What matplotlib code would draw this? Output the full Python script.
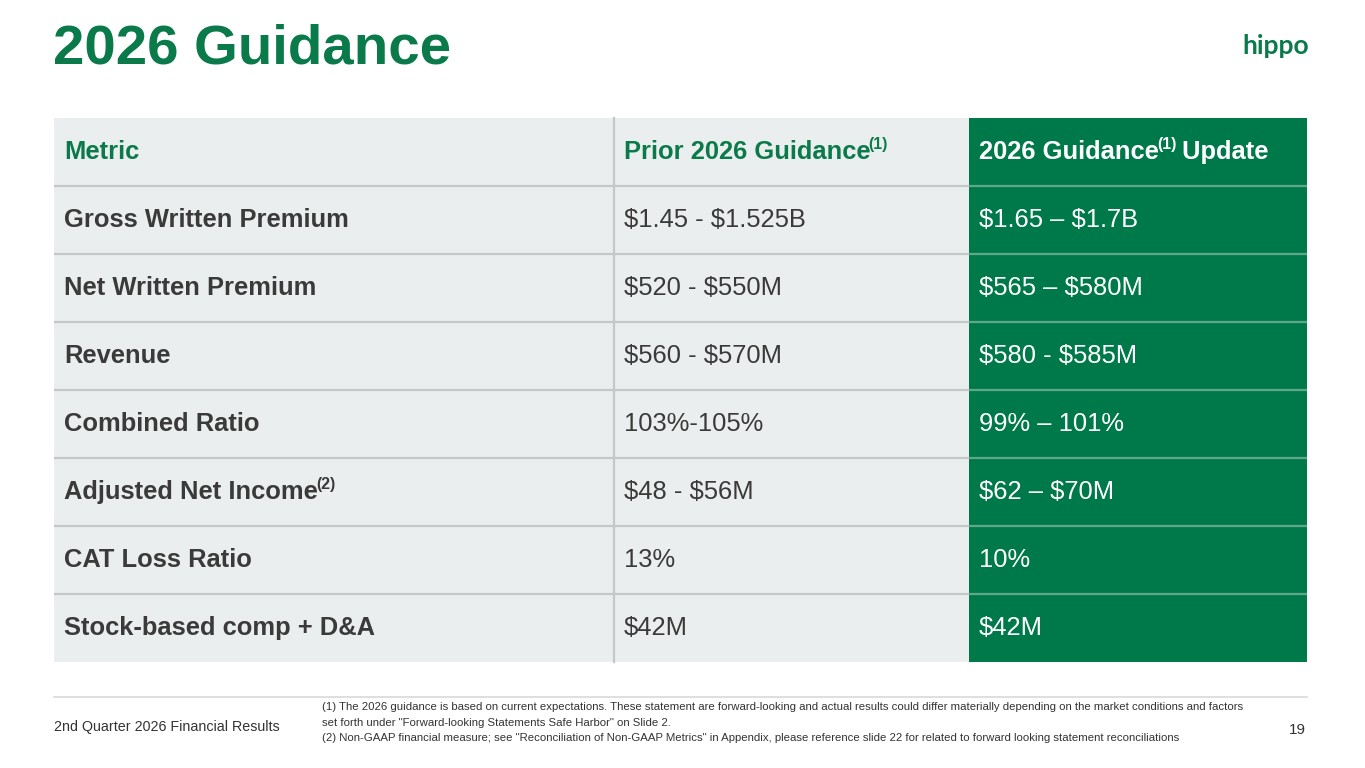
import matplotlib
matplotlib.use("Agg")
import matplotlib.pyplot as plt
from matplotlib.patches import Rectangle

GREEN = "#0a7a4b"
CELL_GREEN = "#00794a"
GREY_BG = "#ebeeee"
TEXT = "#3a3a3a"

headers = ["Metric", "Prior 2026 Guidance", "2026 Guidance"]
header_sup = ["", "(1)", "(1)"]
header_tail = ["", "", " Update"]

metrics = ["Gross Written Premium", "Net Written Premium", "Revenue", "Combined Ratio",
           "Adjusted Net Income", "CAT Loss Ratio", "Stock-based comp + D&A"]
metric_sup = ["", "", "", "", "(2)", "", ""]
prior = ["$1.45 - $1.525B", "$520 - $550M", "$560 - $570M", "103%-105%",
         "$48 - $56M", "13%", "$42M"]
update = ["$1.65 \u2013 $1.7B", "$565 \u2013 $580M", "$580 - $585M", "99% \u2013 101%",
          "$62 \u2013 $70M", "10%", "$42M"]

footnotes = [
    "(1) The 2026 guidance is based on current expectations. These statement are forward-looking and actual results could differ materially depending on the market conditions and factors",
    "set forth under \"Forward-looking Statements Safe Harbor\" on Slide 2.",
    "(2) Non-GAAP financial measure; see \"Reconciliation of Non-GAAP Metrics\" in Appendix, please reference slide 22 for related to forward looking statement reconciliations",
]

plt.rcParams["font.family"] = ["Liberation Sans", "DejaVu Sans"]

fig = plt.figure(figsize=(13.65, 7.68), dpi=100)
ax = fig.add_axes([0, 0, 1, 1])
ax.set_xlim(0, 1365)
ax.set_ylim(768, 0)
ax.axis("off")
renderer = fig.canvas.get_renderer()

# title + logo
ax.text(53, 64, "2026 Guidance", fontsize=40.6, fontweight="bold", color=GREEN, va="baseline")
ax.text(1309, 54, "hippo", fontsize=19, fontweight="bold", color=GREEN, va="baseline", ha="right",
        family=["Lato", "Liberation Sans"])

col_x = [54, 614, 969, 1307]
top = 118
row_h = 68
n_rows = len(metrics) + 1

# cell backgrounds
ax.add_patch(Rectangle((col_x[0], top), col_x[2] - col_x[0], row_h * n_rows, color=GREY_BG, lw=0))
ax.add_patch(Rectangle((col_x[2], top), col_x[3] - col_x[2], row_h * n_rows, color=CELL_GREEN, lw=0))

# grid lines
for i in range(1, n_rows):
    y = top + i * row_h
    ax.plot([col_x[0], col_x[2]], [y, y], color="#c6c8c8", lw=1.6, solid_capstyle="butt")
    ax.plot([col_x[2], col_x[3]], [y, y], color="#5fa786", lw=1.6, solid_capstyle="butt")
ax.plot([col_x[1], col_x[1]], [top, top + row_h * n_rows], color="#c6c8c8", lw=1.6)


def put(x, y, s, sup="", tail="", color=TEXT, weight="normal", size=18.4):
    t = ax.text(x, y, s, fontsize=size, fontweight=weight, color=color, va="center", parse_math=False)
    if not sup:
        return
    bb = t.get_window_extent(renderer)
    x2 = ax.transData.inverted().transform((bb.x1, bb.y0))[0] - 2
    s2 = ax.text(x2, y - 8, sup, fontsize=size * 0.62, fontweight=weight, color=color, va="center")
    if tail:
        bb2 = s2.get_window_extent(renderer)
        x3 = ax.transData.inverted().transform((bb2.x1, bb2.y0))[0] - 1
        ax.text(x3, y, tail, fontsize=size, fontweight=weight, color=color, va="center")


pad = 10
hy = top + row_h / 2
put(col_x[0] + pad, hy, headers[0], color=GREEN, weight="bold")
put(col_x[1] + pad, hy, headers[1], header_sup[1], color=GREEN, weight="bold")
put(col_x[2] + pad, hy, headers[2], header_sup[2], header_tail[2], color="white", weight="bold")

for i in range(len(metrics)):
    y = top + (i + 1) * row_h + row_h / 2
    put(col_x[0] + pad, y, metrics[i], metric_sup[i], weight="bold")
    put(col_x[1] + pad, y, prior[i])
    put(col_x[2] + pad, y, update[i], color="white")

# footer
ax.plot([54, 1307], [697, 697], color="#d9d9d9", lw=1.2)
ax.text(54, 727, "2nd Quarter 2026 Financial Results", fontsize=10.3, color="#333333", va="center")
for i, line in enumerate(footnotes):
    ax.text(322, 707 + i * 15.5, line, fontsize=8.2, color="#333333", va="center")
ax.text(1297, 730, "19", fontsize=11, color="#333333", va="center", ha="center")

fig.savefig("out.png", dpi=100, facecolor="white")
